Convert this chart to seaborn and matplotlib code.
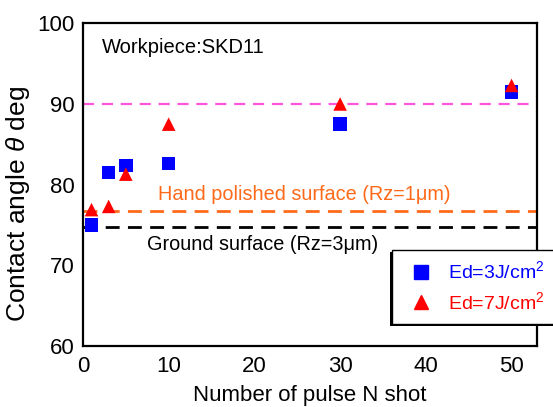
import matplotlib
matplotlib.use("Agg")
import matplotlib.pyplot as plt
import matplotlib.patheffects as pe
from matplotlib.lines import Line2D
import seaborn as sns
import pandas as pd

shots = [1, 3, 5, 10, 30, 50]
angle_3J = [75.0, 81.5, 82.4, 82.6, 87.5, 91.5]
angle_7J = [76.9, 77.3, 81.3, 87.5, 90.0, 92.3]
series_labels = ["Ed=3J/cm$^2$", "Ed=7J/cm$^2$"]
ref_pink = 90.0
ref_hand = 76.7
ref_ground = 74.8

df = pd.DataFrame({
    "N": shots * 2,
    "angle": angle_3J + angle_7J,
    "series": [series_labels[0]] * len(shots) + [series_labels[1]] * len(shots),
})

sns.set_theme(style="white")
plt.rcParams["font.family"] = ["Liberation Sans", "DejaVu Sans"]
plt.rcParams["mathtext.fontset"] = "custom"
plt.rcParams["mathtext.rm"] = "Liberation Sans"
plt.rcParams["mathtext.it"] = "Liberation Sans:italic"
plt.rcParams["text.color"] = "black"
plt.rcParams["axes.labelcolor"] = "black"
plt.rcParams["xtick.color"] = "black"
plt.rcParams["ytick.color"] = "black"

fig = plt.figure(figsize=(5.53, 4.07), dpi=100)
ax = fig.add_axes([0.150, 0.150, 0.8216, 0.7927])

ax.axhline(ref_pink, color="#ff55dd", lw=1.6, dashes=(5, 3.5), zorder=1)
ax.axhline(ref_hand, color="#ff6a1a", lw=2.0, dashes=(5, 3), zorder=1)
ax.axhline(ref_ground, color="black", lw=2.0, dashes=(5, 3), zorder=1)

sns.scatterplot(data=df, x="N", y="angle", hue="series", style="series",
                palette={series_labels[0]: "#0000ff", series_labels[1]: "#ff0000"},
                markers={series_labels[0]: "s", series_labels[1]: "^"},
                s=95, linewidth=0, ax=ax, zorder=3, legend=False)

ax.set_xlim(0, 53)
ax.set_ylim(60, 100)
ax.set_xticks([0, 10, 20, 30, 40, 50])
ax.set_yticks([60, 70, 80, 90, 100])
ax.tick_params(axis="both", labelsize=16, colors="black")
ax.tick_params(axis="x", direction="in", length=7, width=1.3, top=False, pad=7)
ax.tick_params(axis="y", direction="in", length=10, width=1.3, right=False, pad=6)
for sp in ax.spines.values():
    sp.set_linewidth(1.6)
    sp.set_color("black")
    sp.set_visible(True)

ax.set_xlabel("Number of pulse N shot", fontsize=16, labelpad=6)
ax.set_ylabel(r"Contact angle $\it{\theta}$ deg", fontsize=19)
ax.yaxis.set_label_coords(-0.112, 0.44)

ax.text(2.2, 97, "Workpiece:SKD11", fontsize=14.5, va="center", ha="left")
ax.text(8.7, 78.8, "Hand polished surface (Rz=1μm)", fontsize=14.3, color="#ff6a1a",
        va="center", ha="left")
ax.text(7.5, 72.6, "Ground surface (Rz=3μm)", fontsize=14.3, color="black",
        va="center", ha="left")

handles = [Line2D([], [], marker="s", color="#0000ff", ls="none", markersize=9.5),
           Line2D([], [], marker="^", color="#ff0000", ls="none", markersize=10.5)]
leg = ax.legend(handles, series_labels, loc="upper left",
                bbox_to_anchor=(0.709, 0.386), bbox_transform=fig.transFigure,
                borderaxespad=0, fontsize=14, frameon=True, fancybox=False,
                edgecolor="black", framealpha=1, handletextpad=0.45,
                borderpad=0.55, labelspacing=0.45, handlelength=1.9)
for t, c in zip(leg.get_texts(), ["#0000ff", "#ff0000"]):
    t.set_color(c)
frame = leg.get_frame()
frame.set_linewidth(1.0)
frame.set_path_effects([pe.SimplePatchShadow(offset=(-1.5, -1.5), shadow_rgbFace="black", alpha=1),
                        pe.Normal()])
leg.set_zorder(10)

fig.savefig("out.png", dpi=100)
